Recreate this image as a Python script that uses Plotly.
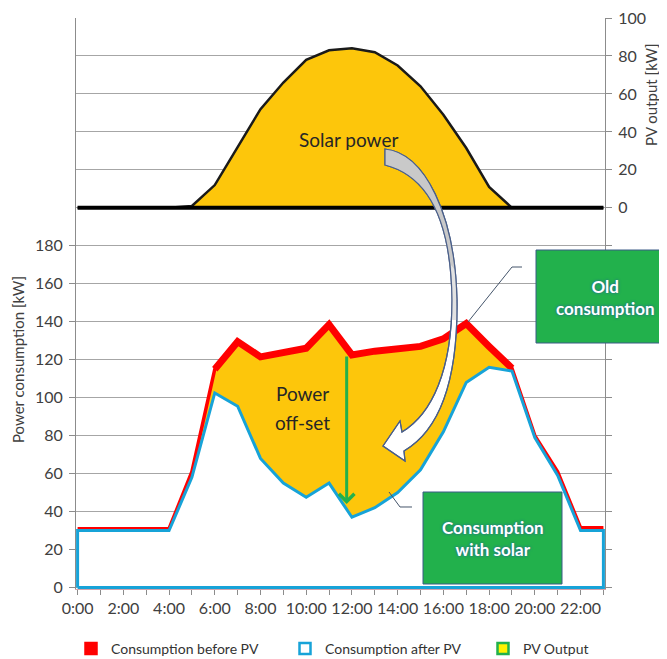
import plotly.graph_objects as go

# ---------------- data ----------------
hours = [0, 1, 2, 3, 4, 5, 6, 7, 8, 9, 10, 11, 12, 13, 14, 15, 16, 17, 18, 19, 20, 21, 22, 23]
hour_labels = ["0:00", "", "2:00", "", "4:00", "", "6:00", "", "8:00", "", "10:00", "",
               "12:00", "", "14:00", "", "16:00", "", "18:00", "", "20:00", "", "22:00", ""]
consumption_before = [31, 31, 31, 31, 31, 61, 115, 129.5, 121.5, 123.5, 126, 138.5,
                      122.5, 124.5, 126, 127, 131, 139, 127, 115.5, 80, 61, 31.5, 31.5]
consumption_after = [30, 30, 30, 30, 30, 58, 102.5, 95.5, 68, 55, 47.5, 55,
                     37, 42, 50, 62, 82, 108, 116, 114, 79, 59, 30, 30]
pv_output = [0, 0, 0, 0, 0, 1, 12, 32, 52, 66, 78, 83,
             84, 82, 75, 64, 49, 31.5, 11, 0, 0, 0, 0, 0]
left_ticks = [0, 20, 40, 60, 80, 100, 120, 140, 160, 180]
right_ticks = [-200, -180, -160, -140, -120, -100, -80, -60, -40, -20, 0, 20, 40, 60, 80, 100]
right_labels = ["", "", "", "", "", "", "", "", "", "", "0", "20", "40", "60", "80", "100"]
series_names = ["Consumption before PV", "Consumption after PV", "PV Output"]

# ---------------- layout geometry (screen pixels of the page) ----------------
OFF = 8                      # page body margin
SL, SR, ST, SB = 76, 605, 18, 589   # plot area on screen
W, H = 659 - OFF, 659 - OFF
ML, MT = SL - OFF, ST - OFF
MR, MB = W - (SR - OFF), H - (SB - OFF)

YELLOW = "#FDC60B"
RED = "#FF0000"
BLUE = "#17A3D8"
GREEN = "#22B14C"
GRID = "#A6A6A6"
AXIS = "#8C8C8C"
TXT = "#404040"
FONT = "Lato, Calibri, sans-serif"


def px(x):
    return (x - SL) / (SR - SL)


def py(y):
    return (SB - y) / (SB - ST)


def P(x, y):
    return f"{px(x):.5f},{py(y):.5f}"


fig = go.Figure()

# PV output area (upper part, right axis)
fig.add_trace(go.Scatter(x=hours, y=pv_output, yaxis="y2", mode="lines", fill="tozeroy",
                         fillcolor=YELLOW, line=dict(color="#1a1a1a", width=2.5),
                         showlegend=False, hoverinfo="skip"))
# consumption before PV (yellow area with red outline)
fig.add_trace(go.Scatter(x=hours, y=consumption_before, mode="lines", fill="tozeroy",
                         fillcolor=YELLOW, line=dict(color=RED, width=3.5),
                         showlegend=False, hoverinfo="skip"))
# highlighted old consumption during daytime
fig.add_trace(go.Scatter(x=hours[6:20], y=consumption_before[6:20], mode="lines",
                         line=dict(color=RED, width=7), showlegend=False, hoverinfo="skip"))
# consumption after PV (white area with blue outline)
fig.add_trace(go.Scatter(x=[hours[0]] + hours + [hours[-1], hours[0]],
                         y=[0] + consumption_after + [0, 0], mode="lines", fill="toself",
                         fillcolor="white", line=dict(color=BLUE, width=3),
                         showlegend=False, hoverinfo="skip"))

# legend entries (one legend per entry so each can sit where the reference has it)
legend_styles = [(RED, RED), ("white", BLUE), ("#FFF200", GREEN)]
legend_ids = ["legend", "legend2", "legend3"]
for name, (fc, lc), lid in zip(series_names, legend_styles, legend_ids):
    fig.add_trace(go.Scatter(x=[None], y=[None], mode="markers", name=name, legend=lid,
                             marker=dict(symbol="square", size=11, color=fc,
                                         line=dict(color=lc, width=2.5))))

shapes = []
# PV baseline
shapes.append(dict(type="line", xref="x", yref="y2", x0=hours[0], x1=hours[-1], y0=0, y1=0,
                   line=dict(color="#000000", width=4)))

# curved arrow from solar power to power off-set
arrow_full = ("M" + P(385, 149) + " C" + P(425, 153) + " " + P(455, 215) + " " + P(457, 300)
              + " C" + P(458, 380) + " " + P(440, 430) + " " + P(404, 451)
              + " L" + P(405, 461) + " L" + P(383, 446) + " L" + P(400, 421) + " L" + P(402, 432)
              + " C" + P(432, 414) + " " + P(452, 370) + " " + P(452, 300)
              + " C" + P(451, 220) + " " + P(428, 176) + " " + P(385, 165) + " Z")
arrow_top = ("M" + P(385, 149) + " C" + P(425, 153) + " " + P(455, 215) + " " + P(457, 300)
             + " L" + P(452, 300)
             + " C" + P(451, 220) + " " + P(428, 176) + " " + P(385, 165) + " Z")
arrow_mid = ("M" + P(455, 270) + " L" + P(457, 320) + " L" + P(452, 320) + " L" + P(451, 265) + " Z")
shapes.append(dict(type="path", xref="paper", yref="paper", path=arrow_full,
                   fillcolor="white", line=dict(color="#4A5F8A", width=1.2)))
shapes.append(dict(type="path", xref="paper", yref="paper", path=arrow_top,
                   fillcolor="#C9C9C9", line=dict(width=0)))
shapes.append(dict(type="path", xref="paper", yref="paper", path=arrow_mid,
                   fillcolor="#E2E2E2", line=dict(width=0)))
shapes.append(dict(type="path", xref="paper", yref="paper", path=arrow_full,
                   fillcolor="rgba(0,0,0,0)", line=dict(color="#4A5F8A", width=1.2)))

# callout connectors
shapes.append(dict(type="path", xref="paper", yref="paper",
                   path="M" + P(522, 267) + " L" + P(512, 267) + " L" + P(468, 322),
                   line=dict(color="#44546A", width=1)))
shapes.append(dict(type="path", xref="paper", yref="paper",
                   path="M" + P(412, 507) + " L" + P(400, 507) + " L" + P(389, 492),
                   line=dict(color="#44546A", width=1)))
# callout boxes
shapes.append(dict(type="rect", xref="paper", yref="paper", x0=px(536), x1=px(690),
                   y0=py(343), y1=py(250), fillcolor=GREEN, line=dict(color="#3B5A86", width=1)))
shapes.append(dict(type="rect", xref="paper", yref="paper", x0=px(423), x1=px(562),
                   y0=py(584), y1=py(492), fillcolor=GREEN, line=dict(color="#3B5A86", width=1)))

box_font = dict(family=FONT, size=17, color="white", weight="bold",
                shadow="0px 0px 3px #2457A8")
label_font = dict(family=FONT, size=19, color="#262626")


def note(text, x, y, font, angle=0):
    return dict(text=text, xref="paper", yref="paper", x=px(x), y=py(y), xanchor="center",
                yanchor="middle", textangle=angle, showarrow=False, font=font)


annotations = [
    note("Power consumption [kW]", 18, 360, dict(family=FONT, size=15, color=TXT), -90),
    note("PV output [kW]", 651, 95, dict(family=FONT, size=15, color=TXT), -90),
    note("Solar power", 348, 139, label_font),
    note("Power", 302, 393, label_font),
    note("off-set", 302, 422, label_font),
    note("Old<br>consumption", 605, 298, box_font),
    note("Consumption<br>with solar", 492.5, 538, box_font),
    # green arrow showing the off-set at noon
    dict(x=11.77, y=44, ax=11.77, ay=consumption_before[12], xref="x", yref="y",
         axref="x", ayref="y", text="", showarrow=True, arrowhead=4, arrowsize=1,
         arrowwidth=3, arrowcolor=GREEN, standoff=0, startstandoff=0),
]

legend_common = dict(orientation="h", xanchor="left", y=py(649), yanchor="middle",
                     font=dict(family=FONT, size=14, color="#333333"), itemwidth=30,
                     bgcolor="rgba(0,0,0,0)")

fig.update_layout(
    width=W, height=H, autosize=False,
    margin=dict(l=ML, r=MR, t=MT, b=MB, autoexpand=False),
    paper_bgcolor="white", plot_bgcolor="white",
    font=dict(family=FONT, size=16, color=TXT),
    xaxis=dict(range=[-0.07, 23.07], tickvals=hours, ticktext=hour_labels, ticks="outside",
               ticklen=5, tickcolor=AXIS, showline=True, linecolor="#D4A3AB", linewidth=1,
               showgrid=False, zeroline=False, tickfont=dict(family=FONT, size=16, color=TXT),
               ticklabeloverflow="allow"),
    yaxis=dict(range=[-0.8, 300], tickvals=left_ticks, ticks="outside", ticklen=6,
               tickcolor=AXIS, showline=True, linecolor=AXIS, gridcolor=GRID, gridwidth=1,
               zeroline=False, tickfont=dict(family=FONT, size=16, color=TXT),
               ticklabelstandoff=3, ticklabeloverflow="allow"),
    yaxis2=dict(range=[-200.8, 100], overlaying="y", side="right", tickvals=right_ticks,
                ticktext=right_labels, ticks="outside", ticklen=6, tickcolor=AXIS,
                showline=True, linecolor=AXIS, gridcolor=GRID, gridwidth=1, zeroline=False,
                tickfont=dict(family=FONT, size=16, color=TXT), ticklabelstandoff=3,
                ticklabeloverflow="allow"),
    legend=dict(x=px(71), **legend_common),
    legend2=dict(x=px(285), **legend_common),
    legend3=dict(x=px(483), **legend_common),
    shapes=shapes,
    annotations=annotations,
    hovermode=False,
)

fig.write_html("out.html")
